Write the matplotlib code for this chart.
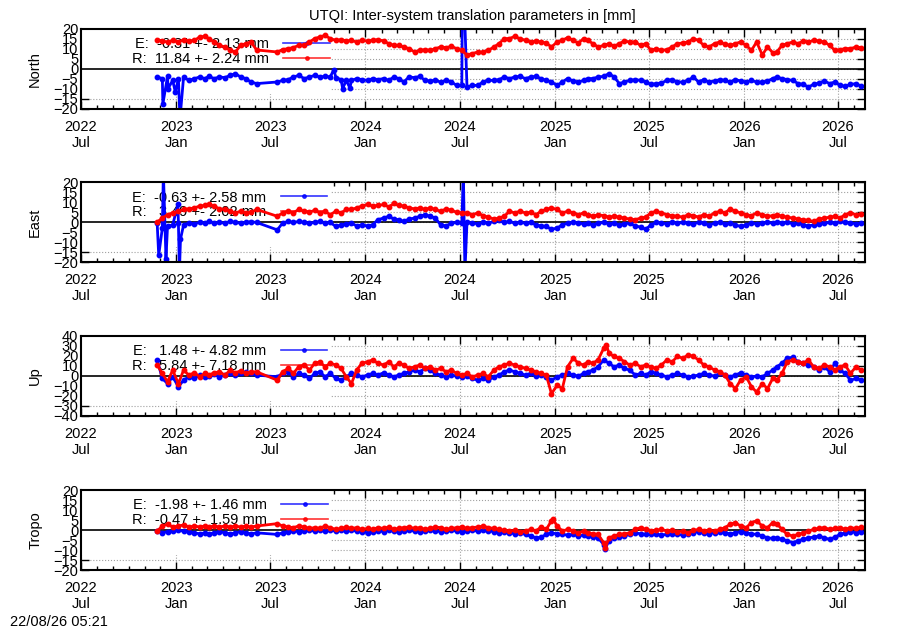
import pandas as pd
import matplotlib
matplotlib.use('Agg')
import matplotlib.pyplot as plt
import matplotlib.dates as mdates
from matplotlib.patches import Rectangle

plt.rcParams['font.family'] = ['Liberation Sans', 'DejaVu Sans']
plt.rcParams['font.size'] = 10.5

# sampling dates: Nov 2022 .. Aug 2026, with the data gap Jun/Jul 2023
MONTHS = pd.period_range('2022-11', '2026-08', freq='M')
SAMPLE_DAYS = [5, 15, 25]
FIRST, LAST = '2022-11-20', '2026-08-20'
GAP = ('2023-06-10', '2023-07-10')

north_E = [-4.0,
           -4.8, -3.7, -5.7, -4.8, -4.0, -5.7, -4.8, -4.0, -4.8, -3.7, -4.8, -4.0,
           -4.3, -3.2, -2.3, -4.0, -4.8, -6.5, -7.3, -6.5, -5.7,
           -5.3, -4.0, -3.2, -4.8, -4.0, -3.2, -4.0, -3.7, -4.0, -4.3, -5.3, -5.7,
           -5.7, -4.8, -5.3,
           -5.7, -4.8, -5.3, -4.8, -5.7, -4.0, -4.8, -6.5, -4.0, -4.3, -3.7, -5.7,
           -6.0, -5.7, -6.5, -5.7, -6.5, -8.2, -8.2, -9.0, -8.2, -8.2, -6.5, -5.7,
           -5.7, -5.3, -4.0, -4.8, -4.0, -3.7, -4.8, -4.0, -3.7, -4.8, -5.7, -6.5,
           -8.2, -6.5, -4.8, -6.0, -6.5, -5.7, -4.8, -4.8, -4.0, -3.7, -2.3, -4.0,
           -7.3, -6.5, -5.7, -5.3, -5.7, -6.5, -7.7, -7.3, -7.0, -5.7, -5.3, -6.5,
           -6.5, -5.7, -4.0, -6.5, -5.3, -6.5, -6.0, -5.3, -5.7, -6.5, -5.3, -6.0,
           -6.5, -5.7, -6.5, -6.5, -6.0, -4.8, -4.0, -4.8, -5.3, -5.7, -7.3, -7.7,
           -9.0, -7.7, -7.0, -6.0, -7.3, -6.5, -8.2, -8.7, -7.7, -7.3, -8.7]
north_R = [14.7,
           14.0, 13.5, 14.3, 13.5, 14.7, 14.0, 14.3, 16.0, 16.3, 15.2, 13.5, 11.8,
           11.0, 9.3, 8.5, 11.8, 12.7, 13.5, 9.5, 8.5, 9.7,
           10.2, 10.7, 11.8, 11.8, 13.5, 15.2, 16.0, 16.8, 15.2, 14.3, 14.7, 14.0,
           14.3, 13.5, 14.3,
           14.0, 14.3, 14.7, 14.0, 12.7, 11.8, 11.8, 11.0, 10.2, 8.5, 9.3, 9.7,
           9.3, 10.2, 11.0, 10.7, 11.3, 10.2, 9.3, 7.0, 7.7, 8.5, 8.5, 9.3,
           11.0, 12.7, 15.2, 15.2, 16.3, 15.2, 14.3, 13.5, 14.0, 13.5, 13.0, 11.0,
           13.5, 14.3, 15.7, 14.3, 13.0, 15.2, 14.3, 12.7, 11.0, 11.8, 12.7, 11.3,
           12.7, 14.0, 13.5, 13.5, 11.8, 12.7, 9.3, 10.2, 9.3, 9.7, 11.0, 12.7,
           13.0, 13.5, 15.2, 14.3, 11.8, 11.0, 12.7, 13.5, 12.3, 11.8, 12.7, 13.5,
           11.8, 9.3, 13.5, 7.0, 11.0, 8.2, 8.5, 11.8, 12.7, 13.5, 12.7, 14.0,
           13.5, 14.3, 14.0, 13.5, 11.8, 9.3, 9.7, 10.2, 10.2, 11.0, 10.7]

east_E = [-0.5,
          -3.0, -2.2, -1.4, -0.5, -1.4, -0.5, -0.8, -0.2, -0.5, 0.3, -0.5, -0.2,
          -0.5, 0.3, -0.2, -0.5, -0.2, 0.2, -0.2, -3.9, -0.5,
          0.3, -0.2, 0.3, -0.2, -0.5, -0.2, 0.3, -0.5, -0.2, -2.2, -1.4, -0.8,
          -0.5, -1.9, -1.4,
          -1.9, -1.4, 1.2, 2.0, 2.9, 1.5, 1.2, 0.3, 1.5, 2.0, 2.9, 3.7,
          2.9, 2.0, -1.4, -1.9, -0.5, -0.2, -0.5, -0.2, -0.5, -0.8, -0.2, -0.5,
          0.3, 0.8, -0.2, 0.3, -0.5, -0.2, -0.5, -0.2, -1.4, -1.9, -2.2, -3.6,
          -3.0, -1.4, -0.5, -0.2, -0.5, -0.8, -0.5, -1.4, -0.5, -0.2, -0.8, -0.5,
          -1.4, -0.8, -0.5, -1.9, -2.5, -3.6, -1.4, -0.2, -0.5, -0.8, -0.2, -0.5,
          -0.2, -0.5, -0.8, -0.2, -0.5, -1.4, -0.5, -0.2, -0.8, -0.5, -1.4, -2.2,
          -1.4, -0.5, -0.8, -0.5, -0.2, -0.5, -0.2, -0.5, -0.2, -0.8, -0.5, -1.4,
          -1.9, -1.4, -0.8, -0.5, -0.2, -0.5, 0.3, -0.2, -0.5, -0.8, -0.5]
east_R = [0.0,
          2.0, 3.7, 4.6, 5.4, 6.3, 6.6, 7.1, 8.0, 8.3, 8.8, 8.0, 6.6,
          6.3, 5.4, 4.6, 5.4, 4.6, 4.9, 6.3, 2.9, 4.6,
          5.4, 4.6, 6.3, 5.4, 4.9, 5.9, 4.6, 5.4, 3.7, 5.4, 4.6, 6.3,
          6.3, 7.1, 8.0,
          8.8, 8.0, 8.3, 8.8, 7.6, 9.3, 8.3, 8.0, 7.1, 6.6, 7.1, 6.3,
          7.1, 6.3, 5.4, 6.6, 5.9, 4.9, 4.6, 4.6, 3.7, 4.6, 3.2, 2.5,
          1.5, 2.0, 2.9, 5.4, 4.6, 5.4, 4.6, 4.9, 3.7, 5.4, 6.3, 7.1,
          6.3, 4.6, 5.4, 4.6, 3.7, 4.6, 3.7, 2.9, 3.7, 3.2, 2.5, 2.9,
          2.5, 2.0, 1.5, 1.2, 2.0, 2.5, 4.6, 5.4, 4.6, 3.7, 3.2, 2.9,
          2.5, 3.7, 3.2, 2.5, 3.7, 2.9, 4.6, 5.4, 4.6, 6.6, 5.4, 4.6,
          3.7, 3.2, 4.6, 3.7, 2.9, 3.2, 3.7, 2.9, 2.5, 2.0, 1.5, 1.2,
          0.8, 0.3, 1.5, 2.0, 2.5, 2.9, 2.0, 3.7, 4.6, 3.7, 4.2]

up_E = [15.9,
        -2.7, -7.8, -1.0, -11.0, -4.4, -1.0, -2.7, 0.7, -1.0, -0.3, 1.7, -1.0,
        0.7, 3.0, 0.7, 2.4, 4.0, 2.4, 0.7, -1.0, 2.4,
        4.0, -1.0, 2.4, 0.7, -2.7, 2.4, 4.0, -1.0, 2.4, -2.7, -4.4, -1.0,
        2.4, 0.7, -1.0,
        0.7, 2.4, 0.7, 3.0, 0.7, -1.0, 0.7, 2.4, 4.0, 5.7, 4.0, 7.4,
        5.7, 2.4, 0.7, -1.0, 0.7, -0.3, -1.0, -0.3, -2.7, -4.4, -2.7, -4.4,
        -1.0, 0.7, 4.0, 5.7, 4.0, 2.4, 0.7, 2.4, -0.3, 0.7, -1.0, -4.4,
        -1.0, 0.7, 2.4, 0.7, -0.3, 2.4, 4.0, 5.7, 9.0, 15.9, 12.5, 9.0,
        10.8, 7.4, 5.7, 0.7, 2.4, 0.7, 4.0, 2.4, 0.7, -1.0, 0.7, 2.4,
        0.7, -1.0, -0.3, 0.7, 2.4, 0.7, -0.3, 2.4, 0.7, -1.0, 0.7, 3.0,
        0.7, -1.0, -0.3, -1.0, 2.4, 5.7, 9.0, 12.5, 17.6, 18.6, 14.0, 12.5,
        10.8, 9.0, 5.7, 9.0, 4.0, 12.5, 5.7, 2.4, -4.4, -2.7, -4.4]
up_R = [10.8,
        2.4, -6.0, 5.7, -7.8, 5.7, 0.7, 3.0, -1.0, 2.4, 0.7, 3.0, 4.0,
        0.7, 5.7, 3.0, 5.0, 2.4, 4.0, 4.0, -4.4, 4.0,
        7.4, 2.4, 9.0, 10.8, 5.7, 12.5, 14.0, 9.0, 12.5, 10.8, 7.4, -1.0,
        -7.8, 5.7, 12.5,
        14.0, 15.9, 12.5, 10.8, 14.0, 9.0, 12.5, 10.8, 7.4, 9.0, 10.8, 7.4,
        9.0, 5.7, 7.4, 4.0, 5.7, 2.4, 0.7, 2.4, -1.0, 0.7, 2.4, -1.0,
        5.7, 9.0, 10.8, 12.5, 10.8, 9.0, 7.4, 5.7, 4.0, 2.4, 0.7, -17.9,
        -9.5, -12.8, 9.0, 17.6, 12.5, 10.8, 14.0, 12.5, 15.9, 27.7, 22.6, 19.3,
        17.6, 14.0, 10.8, 12.5, 9.0, 10.8, 9.0, 7.4, 10.8, 15.9, 14.0, 19.3,
        17.6, 21.0, 19.3, 15.9, 10.8, 9.0, 5.7, 4.0, 0.7, -7.8, -12.8, -4.4,
        -1.0, -11.0, -16.2, -7.8, -12.8, -2.7, -4.4, 2.4, 14.0, 15.9, 14.0, 12.5,
        15.9, 9.0, 7.4, 10.8, 9.0, 5.7, 9.0, 10.8, 2.4, 9.0, 5.7]

tropo_E = [-0.5,
           -1.4, -0.8, -0.5, -0.2, -0.5, -0.8, -1.4, -1.9, -1.4, -1.9, -1.4, -0.8,
           -1.4, -1.9, -1.4, -0.8, -1.4, -1.9, -1.4, -2.2, -1.4,
           -0.8, -0.5, -0.8, -0.5, -0.2, -0.5, -0.2, -0.5, -0.2, -0.5, -0.2, -0.5,
           -0.2, -0.5, -0.8,
           -1.4, -0.8, -0.5, -0.8, -0.2, -0.5, -0.8, -0.5, -0.2, -0.5, -0.8, -0.5,
           -0.2, -0.5, -0.8, -0.5, -0.2, -0.5, -0.8, -0.5, -0.2, -0.5, -0.2, -0.5,
           -0.8, -1.4, -0.8, -1.4, -1.9, -1.4, -2.2, -3.0, -3.9, -3.6, -2.2, -1.4,
           -1.9, -2.2, -2.5, -2.2, -3.0, -2.5, -3.0, -3.6, -3.9, -7.3, -5.3, -3.9,
           -3.6, -3.0, -2.2, -1.4, -1.9, -2.2, -1.9, -2.2, -2.5, -2.2, -1.9, -2.2,
           -2.5, -2.2, -1.4, -0.8, -1.4, -1.9, -1.4, -0.8, -1.4, -1.9, -1.4, -0.8,
           -1.4, -1.9, -2.2, -3.0, -3.9, -4.2, -3.9, -4.7, -5.3, -6.4, -5.3, -4.7,
           -3.9, -3.6, -3.0, -3.9, -4.7, -3.6, -2.2, -1.4, -0.8, -1.4, -0.8]
tropo_R = [-0.5,
           2.0, 2.9, 1.5, 2.0, 2.5, 1.5, 2.0, 1.5, 2.0, 1.5, 2.0, 1.5,
           2.0, 1.5, 2.0, 1.5, 2.0, 1.5, 2.0, 3.2, 2.0,
           1.5, 1.2, 2.0, 1.5, 0.8, 1.2, 0.8, 2.0, 1.2, 0.3, 0.8, 1.5,
           0.8, 1.2, 0.3,
           0.8, 0.3, 1.2, 0.8, 1.5, 0.3, 0.8, 1.2, 1.5, 0.8, 1.2, 0.3,
           0.8, 1.5, 1.2, 0.3, 0.8, 1.2, 1.5, 0.8, 1.2, 1.5, 2.0, 1.2,
           0.8, 0.3, -0.2, -0.5, -0.2, -0.8, -0.5, 0.3, -0.5, 1.5, 0.3, 4.6,
           2.0, -0.5, 0.3, -0.5, -1.4, -0.5, -1.4, -1.9, -2.2, -6.4, -3.9, -3.0,
           -2.2, -1.9, -1.4, 0.3, 1.2, 0.3, -0.5, -0.2, 0.3, -0.5, -0.2, -0.8,
           -0.5, -1.4, -0.2, 0.3, -0.5, -0.2, -0.5, 0.3, 1.2, 2.9, 3.7, 2.0,
           1.2, 3.7, 4.6, 2.0, 1.2, 3.7, 3.2, 0.3, -2.2, -3.0, -2.2, -1.4,
           -0.5, 0.3, 0.8, 1.2, 0.3, 0.8, 1.2, 0.3, 1.2, 0.8, 1.5]

# single-day outliers (date, value)
north_E_out = [('2022-12-06', -17.5), ('2022-12-16', -9.8), ('2022-12-30', -11.5),
               ('2023-01-08', -25.0), ('2023-11-01', -0.3), ('2023-11-18', -9.8),
               ('2023-12-02', -9.5), ('2024-07-06', 30.0), ('2024-07-10', 30.0)]
north_R_out = []
east_E_out = [('2022-11-28', -16.6), ('2022-12-07', 25.0), ('2022-12-12', -18.3),
              ('2023-01-04', 8.8), ('2023-01-07', -25.0), ('2023-01-09', -8.6),
              ('2024-07-08', 25.0), ('2024-07-11', -25.0)]
east_R_out = []
up_E_out = []
up_R_out = [('2025-04-10', 31.0)]
tropo_E_out = [('2025-04-08', -9.3)]
tropo_R_out = [('2024-12-28', 5.4), ('2025-04-08', -9.0)]

labels = {
    'North': ('E:  -6.31 +- 2.13 mm', 'R:  11.84 +- 2.24 mm'),
    'East': ('E:  -0.63 +- 2.58 mm', 'R:   3.49 +- 2.02 mm'),
    'Up': ('E:   1.48 +- 4.82 mm', 'R:   5.84 +- 7.18 mm'),
    'Tropo': ('E:  -1.98 +- 1.46 mm', 'R:  -0.47 +- 1.59 mm'),
}

##### build the date axis #####

dates = []
for m in MONTHS:
    for d in SAMPLE_DAYS:
        t = m.start_time + pd.Timedelta(days=d - 1)
        if t < pd.Timestamp(FIRST) or t > pd.Timestamp(LAST):
            continue
        if pd.Timestamp(GAP[0]) < t < pd.Timestamp(GAP[1]):
            continue
        dates.append(t)
dates = pd.DatetimeIndex(dates)


def series(vals, outliers):
    s = pd.Series(vals, index=dates)
    if outliers:
        o = pd.Series([v for _, v in outliers],
                      index=pd.DatetimeIndex([d for d, _ in outliers]))
        s = pd.concat([s, o]).sort_index()
    return s


def panel(ax, name, e, r, lim, step):
    ax.set_axisbelow(True)
    ax.grid(True, which='major', linestyle=':', color='#a0a0a0', linewidth=0.8)
    # gnuplot key box hides the grid behind it
    ax.add_patch(Rectangle((0, 0.19), 0.318, 0.81, transform=ax.transAxes,
                           facecolor='white', edgecolor='none', zorder=0.8))
    ax.axhline(0, color='black', linewidth=1.2, zorder=1.8)
    le, = ax.plot(e.index, e.values, '-o', color='#0000ff', ms=3.2, lw=2.0,
                  label=labels[name][0], zorder=2)
    lr, = ax.plot(r.index, r.values, '-o', color='#ff0000', ms=3.2, lw=2.0,
                  label=labels[name][1], zorder=2.1)
    leg = ax.legend(handles=[le, lr], loc='upper left',
                    bbox_to_anchor=(0.05, 1.04), frameon=False,
                    markerfirst=False, handlelength=3.2, handletextpad=1.0,
                    labelspacing=0.05, borderpad=0.3, fontsize=10.5)
    for h in leg.legend_handles:
        h.set_linewidth(1.2)
        h.set_markersize(2.5)
        h.set_alpha(0.8)
    leg.set_zorder(1.9)
    ax.set_xlim(pd.Timestamp('2022-07-01'), pd.Timestamp('2026-08-22'))
    ax.set_ylim(-lim, lim)
    ax.set_yticks(range(-lim, lim + 1, step))
    ax.xaxis.set_major_locator(mdates.MonthLocator(bymonth=[1, 7]))
    ax.xaxis.set_minor_locator(mdates.MonthLocator())
    ax.xaxis.set_major_formatter(mdates.DateFormatter('%Y\n%b'))
    ax.tick_params(which='both', direction='in', top=True, right=True,
                   labelsize=10.5)
    ax.tick_params(which='major', length=6, width=1)
    ax.tick_params(which='minor', length=3, width=1)
    ax.tick_params(axis='y', pad=2)
    ax.tick_params(axis='x', pad=8)
    for sp in ax.spines.values():
        sp.set_linewidth(1.5)
    ax.set_ylabel(name, fontsize=10.5, labelpad=8)


fig = plt.figure(figsize=(9, 6.3), dpi=100)
boxes = [0.827, 0.584, 0.340, 0.0952]
names = ['North', 'East', 'Up', 'Tropo']
data = [(series(north_E, north_E_out), series(north_R, north_R_out), 20, 5),
        (series(east_E, east_E_out), series(east_R, east_R_out), 20, 5),
        (series(up_E, up_E_out), series(up_R, up_R_out), 40, 10),
        (series(tropo_E, tropo_E_out), series(tropo_R, tropo_R_out), 20, 5)]
for b, name, (e, r, lim, step) in zip(boxes, names, data):
    ax = fig.add_axes([0.09, b, 0.871, 0.127])
    panel(ax, name, e, r, lim, step)

fig.text(0.525, 0.975, 'UTQI: Inter-system translation parameters in [mm]',
         ha='center', va='center', fontsize=10.5)
fig.text(0.011, 0.0125, '22/08/26 05:21', ha='left', va='center', fontsize=10.5)

fig.savefig('out.png', dpi=100)
